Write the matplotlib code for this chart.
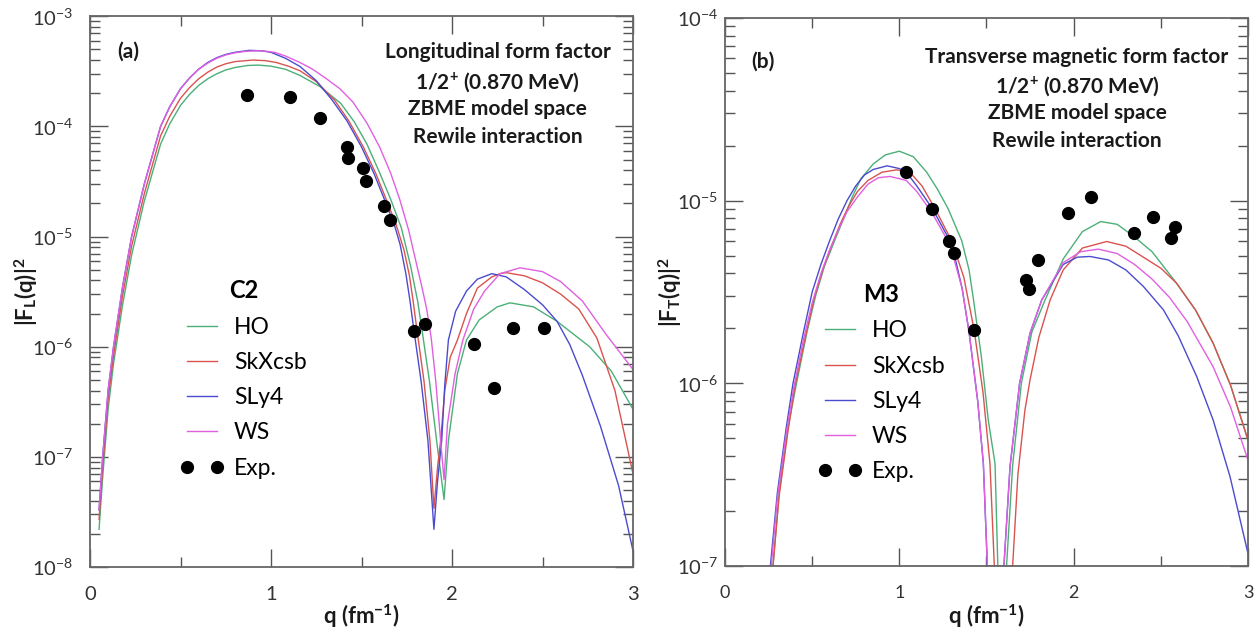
import numpy as np
import matplotlib
matplotlib.use("Agg")
import matplotlib.pyplot as plt
from matplotlib.ticker import LogLocator, MultipleLocator, NullFormatter

plt.rcParams['font.family'] = ['Lato', 'DejaVu Sans']
plt.rcParams['mathtext.fontset'] = 'custom'
plt.rcParams['mathtext.rm'] = 'Lato'
plt.rcParams['mathtext.it'] = 'Lato:italic'
plt.rcParams['mathtext.bf'] = 'Lato:bold'

models = ['HO', 'SkXcsb', 'SLy4', 'WS']
colors = {'HO': '#4caf78', 'SkXcsb': '#d9534f', 'SLy4': '#4b4bcf', 'WS': '#e060e0'}

# ---- (a) longitudinal C2 form factor, |F_L(q)|^2
ho_L_q = [0.05, 0.07, 0.10, 0.13, 0.18, 0.23, 0.30, 0.39, 0.44, 0.50, 0.55, 0.60, 0.65, 0.70, 0.75, 0.80,
          0.87, 0.93, 1.00, 1.08, 1.16, 1.27, 1.385, 1.46, 1.53, 1.60, 1.66, 1.72, 1.77, 1.81, 1.835, 1.875,
          1.915, 1.956, 1.98, 2.03, 2.08, 2.15, 2.25, 2.32, 2.45, 2.58, 2.76, 2.88, 3.0]
ho_L_f = [2.2e-8, 6.5e-8, 2.7e-7, 7e-7, 2.4e-6, 6.8e-6, 2.1e-5, 6.9e-5, 1.05e-4, 1.55e-4, 1.95e-4, 2.35e-4,
          2.7e-4, 3.0e-4, 3.25e-4, 3.42e-4, 3.57e-4, 3.6e-4, 3.52e-4, 3.3e-4, 2.9e-4, 2.3e-4, 1.62e-4,
          1.1e-4, 6.9e-5, 3.8e-5, 2.2e-5, 1.2e-5, 5.5e-6, 2.6e-6, 1.39e-6, 4.9e-7, 1.4e-7, 4.1e-8, 1.4e-7,
          5.7e-7, 1.15e-6, 1.75e-6, 2.3e-6, 2.5e-6, 2.3e-6, 1.7e-6, 1.0e-6, 6e-7, 2.7e-7]

sk_L_q = [0.05, 0.07, 0.10, 0.13, 0.18, 0.23, 0.30, 0.39, 0.44, 0.50, 0.55, 0.60, 0.65, 0.70, 0.75, 0.80,
          0.90, 0.97, 1.03, 1.10, 1.16, 1.25, 1.35, 1.43, 1.51, 1.58, 1.64, 1.69, 1.735, 1.765, 1.785, 1.807,
          1.845, 1.878, 1.90, 1.92, 1.937, 1.96, 1.99, 2.03, 2.08, 2.14, 2.22, 2.265, 2.30, 2.40, 2.50,
          2.60, 2.70, 2.80, 2.90, 3.0]
sk_L_f = [2.7e-8, 8e-8, 3.3e-7, 8.3e-7, 2.9e-6, 8.2e-6, 2.45e-5, 8.2e-5, 1.23e-4, 1.8e-4, 2.25e-4, 2.7e-4,
          3.1e-4, 3.45e-4, 3.7e-4, 3.87e-4, 4.0e-4, 3.95e-4, 3.8e-4, 3.5e-4, 3.2e-4, 2.55e-4, 1.74e-4,
          1.12e-4, 6.5e-5, 3.7e-5, 2.1e-5, 1.3e-5, 7.5e-6, 4.4e-6, 2.6e-6, 1.39e-6, 4.9e-7, 1.4e-7, 3.4e-8,
          8e-8, 1.4e-7, 4e-7, 8e-7, 1.15e-6, 2.0e-6, 3.4e-6, 4.3e-6, 4.6e-6, 4.7e-6, 4.4e-6, 3.8e-6, 3.0e-6,
          2.2e-6, 1.2e-6, 4e-7, 7e-8]

sl_L_q = [0.05, 0.07, 0.10, 0.13, 0.18, 0.23, 0.30, 0.39, 0.44, 0.50, 0.55, 0.60, 0.65, 0.70, 0.75, 0.80,
          0.88, 0.95, 1.00, 1.08, 1.16, 1.25, 1.337, 1.42, 1.50, 1.57, 1.63, 1.68, 1.713, 1.745, 1.768, 1.79,
          1.829, 1.867, 1.90, 1.92, 1.943, 1.96, 1.98, 2.02, 2.08, 2.14, 2.22, 2.30, 2.40, 2.50, 2.58, 2.65,
          2.72, 2.82, 2.92, 3.0]
sl_L_f = [3.3e-8, 1.0e-7, 4.0e-7, 1.0e-6, 3.5e-6, 1.0e-5, 3.0e-5, 1.0e-4, 1.5e-4, 2.2e-4, 2.75e-4, 3.3e-4,
          3.8e-4, 4.2e-4, 4.5e-4, 4.7e-4, 4.9e-4, 4.85e-4, 4.7e-4, 4.15e-4, 3.5e-4, 2.6e-4, 1.74e-4,
          1.12e-4, 6.5e-5, 3.7e-5, 2.1e-5, 1.3e-5, 8.5e-6, 4.6e-6, 2.6e-6, 1.39e-6, 4.9e-7, 1.4e-7, 2.2e-8,
          6e-8, 1.4e-7, 4.5e-7, 1.15e-6, 2.1e-6, 3.2e-6, 4.1e-6, 4.6e-6, 4.3e-6, 3.3e-6, 2.4e-6, 1.7e-6,
          1.05e-6, 5.5e-7, 1.9e-7, 5.5e-8, 1.4e-8]

ws_L_q = [0.05, 0.07, 0.10, 0.13, 0.18, 0.23, 0.30, 0.39, 0.44, 0.50, 0.55, 0.60, 0.65, 0.70, 0.75, 0.80,
          0.86, 0.92, 0.97, 1.02, 1.08, 1.16, 1.23, 1.30, 1.38, 1.453, 1.53, 1.60, 1.66, 1.71, 1.76, 1.80,
          1.835, 1.86, 1.885, 1.91, 1.937, 1.956, 1.975, 2.017, 2.06, 2.12, 2.18, 2.265, 2.376, 2.50, 2.60,
          2.72, 2.85, 3.0]
ws_L_f = [3.3e-8, 1.0e-7, 4.0e-7, 1.0e-6, 3.5e-6, 1.0e-5, 3.0e-5, 1.0e-4, 1.5e-4, 2.2e-4, 2.75e-4, 3.3e-4,
          3.75e-4, 4.15e-4, 4.45e-4, 4.65e-4, 4.8e-4, 4.85e-4, 4.82e-4, 4.7e-4, 4.35e-4, 3.8e-4, 3.3e-4,
          2.75e-4, 2.2e-4, 1.66e-4, 1.07e-4, 6.5e-5, 3.8e-5, 2.2e-5, 1.15e-5, 6.0e-6, 3.4e-6, 2.2e-6,
          1.2e-6, 4.9e-7, 1.4e-7, 6.2e-8, 2e-7, 5.7e-7, 1.15e-6, 2.2e-6, 3.2e-6, 4.6e-6, 5.2e-6, 4.8e-6,
          3.9e-6, 2.6e-6, 1.3e-6, 6.2e-7]

exp_L_q = [0.867, 1.105, 1.27, 1.42, 1.425, 1.51, 1.523, 1.626, 1.66, 1.79, 1.85, 2.12, 2.234, 2.339, 2.508]
exp_L_f = [1.92e-4, 1.84e-4, 1.19e-4, 6.5e-5, 5.2e-5, 4.2e-5, 3.2e-5, 1.9e-5, 1.4e-5, 1.39e-6, 1.62e-6,
           1.06e-6, 4.2e-7, 1.48e-6, 1.48e-6]

# ---- (b) transverse M3 form factor, log10 |F_T(q)|^2
ho_T_q = [0.275, 0.31, 0.36, 0.41, 0.47, 0.52, 0.57, 0.62, 0.68, 0.73, 0.78, 0.85, 0.92, 1.00, 1.08, 1.157,
          1.22, 1.28, 1.358, 1.40, 1.425, 1.47, 1.51, 1.549, 1.565, 1.615, 1.65, 1.70, 1.76, 1.836, 1.94,
          2.05, 2.155, 2.25, 2.35, 2.45, 2.59, 2.70, 2.80, 2.90, 3.0]
ho_T_lg = [-7.0, -6.6, -6.25, -6.0, -5.72, -5.52, -5.36, -5.24, -5.10, -4.98, -4.88, -4.80, -4.75, -4.73,
           -4.76, -4.845, -4.94, -5.045, -5.22, -5.38, -5.54, -5.85, -6.2, -6.44, -7.0, -7.0, -6.45, -6.0,
           -5.72, -5.544, -5.32, -5.17, -5.115, -5.13, -5.20, -5.28, -5.452, -5.60, -5.78, -6.01, -6.31]

sk_T_q = [0.275, 0.31, 0.36, 0.40, 0.46, 0.51, 0.56, 0.61, 0.66, 0.71, 0.76, 0.82, 0.90, 0.985, 1.06, 1.13,
          1.205, 1.30, 1.37, 1.429, 1.48, 1.52, 1.545, 1.65, 1.68, 1.72, 1.75, 1.80, 1.865, 1.94, 2.05,
          2.19, 2.30, 2.40, 2.50, 2.59, 2.70, 2.80, 2.90, 3.0]
sk_T_lg = [-7.0, -6.62, -6.27, -6.02, -5.75, -5.54, -5.38, -5.25, -5.13, -5.03, -4.95, -4.89, -4.845,
           -4.832, -4.845, -4.92, -5.045, -5.22, -5.42, -5.708, -6.05, -6.44, -7.0, -7.0, -6.5, -6.15,
           -5.98, -5.75, -5.544, -5.38, -5.26, -5.224, -5.25, -5.31, -5.37, -5.452, -5.60, -5.78, -6.01,
           -6.31]

sl_T_q = [0.26, 0.30, 0.35, 0.39, 0.45, 0.50, 0.55, 0.60, 0.65, 0.70, 0.75, 0.80, 0.85, 0.93, 1.00, 1.04,
          1.10, 1.19, 1.29, 1.314, 1.36, 1.40, 1.45, 1.482, 1.505, 1.60, 1.635, 1.69, 1.75, 1.817, 1.94,
          2.02, 2.094, 2.20, 2.30, 2.40, 2.515, 2.60, 2.706, 2.80, 2.897, 3.0]
sl_T_lg = [-7.0, -6.6, -6.25, -6.0, -5.72, -5.50, -5.35, -5.22, -5.10, -5.00, -4.92, -4.86, -4.83, -4.81,
           -4.825, -4.845, -4.92, -5.045, -5.22, -5.29, -5.48, -5.72, -6.1, -6.44, -7.0, -7.0, -6.456,
           -6.0, -5.725, -5.544, -5.35, -5.31, -5.306, -5.325, -5.38, -5.47, -5.598, -5.74, -5.963, -6.2,
           -6.51, -6.93]

ws_T_q = [0.265, 0.30, 0.35, 0.395, 0.45, 0.50, 0.55, 0.60, 0.65, 0.70, 0.76, 0.82, 0.88, 0.947, 1.04, 1.10,
          1.186, 1.29, 1.36, 1.40, 1.45, 1.482, 1.505, 1.60, 1.635, 1.69, 1.75, 1.817, 1.94, 2.04, 2.142,
          2.25, 2.35, 2.45, 2.55, 2.65, 2.80, 2.90, 3.0]
ws_T_lg = [-7.0, -6.63, -6.28, -6.02, -5.76, -5.56, -5.40, -5.27, -5.16, -5.06, -4.98, -4.91, -4.875,
           -4.868, -4.89, -4.95, -5.065, -5.24, -5.48, -5.72, -6.1, -6.44, -7.0, -7.0, -6.456, -6.0,
           -5.725, -5.544, -5.34, -5.28, -5.266, -5.29, -5.35, -5.43, -5.53, -5.66, -5.909, -6.13, -6.42]

exp_T_q = [1.038, 1.186, 1.287, 1.314, 1.429, 1.727, 1.746, 1.798, 1.970, 2.10, 2.348, 2.457, 2.557, 2.582]
exp_T_f = [1.43e-5, 9.0e-6, 6.0e-6, 5.15e-6, 1.96e-6, 3.68e-6, 3.29e-6, 4.73e-6, 8.53e-6, 1.05e-5, 6.64e-6,
           8.17e-6, 6.22e-6, 7.2e-6]

curves_L = {'HO': (ho_L_q, ho_L_f), 'SkXcsb': (sk_L_q, sk_L_f), 'SLy4': (sl_L_q, sl_L_f), 'WS': (ws_L_q, ws_L_f)}
curves_T = {'HO': (ho_T_q, 10.0 ** np.array(ho_T_lg)), 'SkXcsb': (sk_T_q, 10.0 ** np.array(sk_T_lg)),
            'SLy4': (sl_T_q, 10.0 ** np.array(sl_T_lg)), 'WS': (ws_T_q, 10.0 ** np.array(ws_T_lg))}

fig = plt.figure(figsize=(12.57, 6.36), dpi=100)
axL = fig.add_axes([0.0716, 0.1085, 0.432, 0.866])
axR = fig.add_axes([0.5768, 0.110, 0.416, 0.862])


def style(ax, ylim, ypad, xsize):
    ax.set_yscale('log')
    ax.set_xlim(0, 3)
    ax.set_ylim(*ylim)
    ax.xaxis.set_major_locator(MultipleLocator(1))
    ax.xaxis.set_minor_locator(MultipleLocator(0.5))
    ax.yaxis.set_major_locator(LogLocator(base=10, numticks=20))
    ax.yaxis.set_minor_locator(LogLocator(base=10, subs=np.arange(2, 10), numticks=20))
    ax.yaxis.set_minor_formatter(NullFormatter())
    ax.tick_params(which='both', direction='in', top=True, right=True, colors='#555555',
                   labelcolor='#333333', labelsize=14.5)
    ax.tick_params(which='major', length=13, width=1.0)
    ax.tick_params(which='minor', length=7, width=1.0)
    ax.tick_params(axis='y', pad=ypad)
    ax.tick_params(axis='x', pad=14, labelsize=xsize)
    for s in ax.spines.values():
        s.set_color('#666666')
        s.set_linewidth(1.3)


def draw(ax, curves, eq, ef, title, ylabel, txt_x, txt_y, lab, lab_y, leg_anchor):
    for m in models:
        q, f = curves[m]
        ax.plot(q, f, color=colors[m], lw=1.0, label=m)
    ax.plot(eq, ef, 'o', color='black', ms=8.5, label='Exp.')
    leg = ax.legend(loc='upper left', bbox_to_anchor=leg_anchor, frameon=False, numpoints=2,
                    fontsize=16.5, handlelength=1.9, handletextpad=0.45, labelspacing=0.62, borderpad=0,
                    borderaxespad=0, title=title, title_fontproperties={'weight': 'bold', 'size': 17})
    leg._legend_box.align = 'center'
    lines = ["Longitudinal form factor" if ax is axL else "Transverse magnetic form factor",
             "1/2$^{\\mathbf{+}}$ (0.870 MeV)", "ZBME model space", "Rewile interaction"]
    for t, y in zip(lines, txt_y):
        ax.text(txt_x, y, t, transform=ax.transAxes, ha='center', va='center',
                fontsize=15, fontweight='bold', color='#1a1a1a')
    ax.text(0.05, lab_y, lab, transform=ax.transAxes, ha='left', va='center',
            fontsize=15, fontweight='bold', color='#1a1a1a')
    ax.set_xlabel("q (fm$^{\\mathbf{-1}}$)", fontsize=16, fontweight='bold', color='#1a1a1a')
    ax.set_ylabel(ylabel, fontsize=16, fontweight='bold', color='#1a1a1a')


style(axL, (1e-8, 1e-3), 12, 14.5)
style(axR, (1e-7, 1e-4), 5, 13)

draw(axL, curves_L, exp_L_q, exp_L_f, 'C2', "|F$_{\\mathbf{L}}$(q)|$^{\\mathbf{2}}$",
     0.751, [0.935, 0.880, 0.831, 0.780], '(a)', 0.935, (0.166, 0.522))
draw(axR, curves_T, exp_T_q, exp_T_f, 'M3', "|F$_{\\mathbf{T}}$(q)|$^{\\mathbf{2}}$",
     0.673, [0.929, 0.876, 0.827, 0.776], '(b)', 0.920, (0.178, 0.516))

axL.xaxis.set_label_coords(0.50, -0.064)
axR.xaxis.set_label_coords(0.50, -0.067)
axL.yaxis.set_label_coords(-0.092, 0.5)
axR.yaxis.set_label_coords(-0.078, 0.5)

fig.savefig('out.png', dpi=100)
